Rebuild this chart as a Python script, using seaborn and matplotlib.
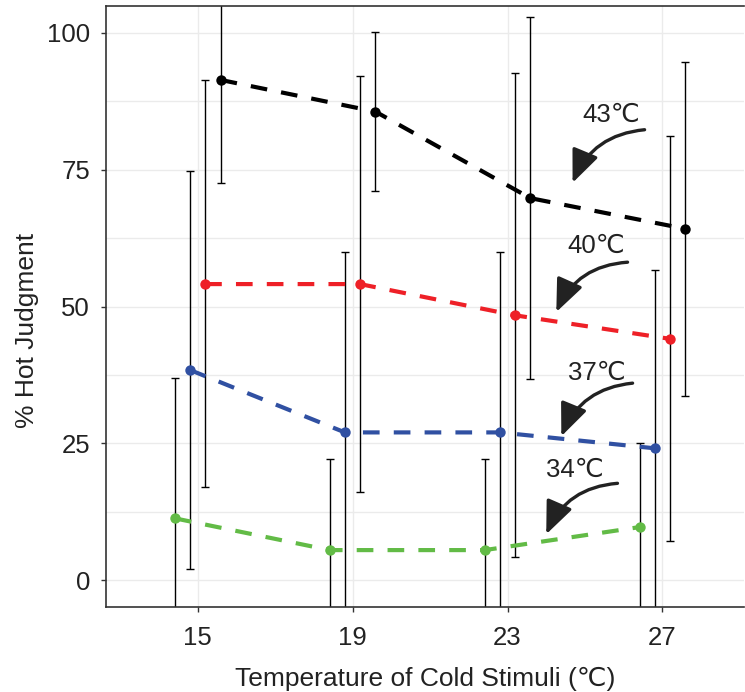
import seaborn as sns
import matplotlib.pyplot as plt
import pandas as pd
from matplotlib.ticker import MultipleLocator

sns.set_style('white')
plt.rcParams['font.family'] = ['Liberation Sans', 'DejaVu Sans']

cold = [15, 19, 23, 27]
hot_temps = ['34', '37', '40', '43']

pct_34 = [11.3, 5.5, 5.5, 9.7]
pct_37 = [38.4, 27.0, 27.0, 24.1]
pct_40 = [54.1, 54.1, 48.4, 44.1]
pct_43 = [91.4, 85.6, 69.8, 64.2]

low_34 = [-14.3, -11.1, -11.1, -5.6]
high_34 = [36.9, 22.1, 22.1, 25.0]
low_37 = [2.0, -6.0, -6.0, -8.5]
high_37 = [74.8, 60.0, 60.0, 56.7]
low_40 = [17.0, 16.1, 4.2, 7.1]
high_40 = [91.4, 92.1, 92.7, 81.2]
low_43 = [72.6, 71.1, 36.7, 33.6]
high_43 = [110.2, 100.2, 102.9, 94.7]

palette = {'34': '#62BB46', '37': '#3050A2', '40': '#EE2027', '43': '#000000'}
dodge = {'34': -0.59, '37': -0.2, '40': 0.19, '43': 0.59}

rows = []
series = {'34': (pct_34, low_34, high_34), '37': (pct_37, low_37, high_37),
          '40': (pct_40, low_40, high_40), '43': (pct_43, low_43, high_43)}
for t in hot_temps:
    p, lo, hi = series[t]
    for c, v, l, h in zip(cold, p, lo, hi):
        rows.append({'temp': t, 'cold': c, 'x': c + dodge[t], 'pct': v, 'low': l, 'high': h})
df = pd.DataFrame(rows)

fig = plt.figure(figsize=(7.45, 6.92), dpi=100)
ax = fig.add_axes([0.1423, 0.1228, 0.857, 0.8685])

# error bars first
ax.errorbar(df['x'], df['pct'], yerr=[df['pct'] - df['low'], df['high'] - df['pct']],
            fmt='none', ecolor='black', elinewidth=1.0, capsize=2.6, capthick=1.0, zorder=2)

sns.lineplot(data=df, x='x', y='pct', hue='temp', style='temp', palette=palette,
             dashes={t: (4.0, 3.4) for t in hot_temps}, markers={t: 'o' for t in hot_temps},
             markersize=7.5, markeredgewidth=0, linewidth=3, legend=False, ax=ax, zorder=3)

ax.set_xlim(12.63, 29.12)
ax.set_ylim(-4.9, 104.9)
ax.set_xticks(cold)
ax.yaxis.set_major_locator(MultipleLocator(25))
ax.yaxis.set_minor_locator(MultipleLocator(12.5))
ax.grid(True, which='major', color='#ebebeb', linewidth=1.0)
ax.grid(True, which='minor', axis='y', color='#ebebeb', linewidth=1.0)
ax.set_axisbelow(True)

for s in ['left', 'bottom', 'top']:
    ax.spines[s].set_color('#333333')
    ax.spines[s].set_linewidth(1.2)
ax.spines['right'].set_visible(False)

ax.tick_params(axis='both', which='major', length=3.5, width=1, color='#333333',
               labelsize=18.5, labelcolor='#222222', bottom=True, left=True)
ax.tick_params(axis='x', pad=10)
ax.tick_params(axis='y', pad=8)
ax.tick_params(axis='y', which='minor', length=0)

ax.set_xlabel('Temperature of Cold Stimuli (℃)', fontsize=19, color='#222222', labelpad=12)
ax.set_ylabel('% Hot Judgment', fontsize=19, color='#222222', labelpad=6)
ax.yaxis.label.set_y(0.46)

# annotations: label position, arrow start, arrow end
notes = [('43℃', (25.68, 85.0), (26.54, 82.3), (24.68, 72.6)),
         ('40℃', (25.30, 61.1), (26.10, 58.1), (24.26, 49.0)),
         ('37℃', (25.30, 37.8), (26.23, 36.0), (24.39, 26.3)),
         ('34℃', (24.73, 20.1), (25.84, 17.7), (24.00, 8.4))]
for lab, tpos, start, end in notes:
    ax.text(tpos[0], tpos[1], lab, fontsize=18.5, color='#222222', ha='center', va='center',
            family=['Liberation Sans', 'DejaVu Sans'])
    ax.annotate('', xy=end, xytext=start,
                arrowprops=dict(arrowstyle='-|>,head_length=1.0,head_width=0.42',
                                connectionstyle='arc3,rad=0.3', lw=2.4, color='#222222',
                                shrinkA=0, shrinkB=0, mutation_scale=20))

fig.savefig('out.png', dpi=100)
